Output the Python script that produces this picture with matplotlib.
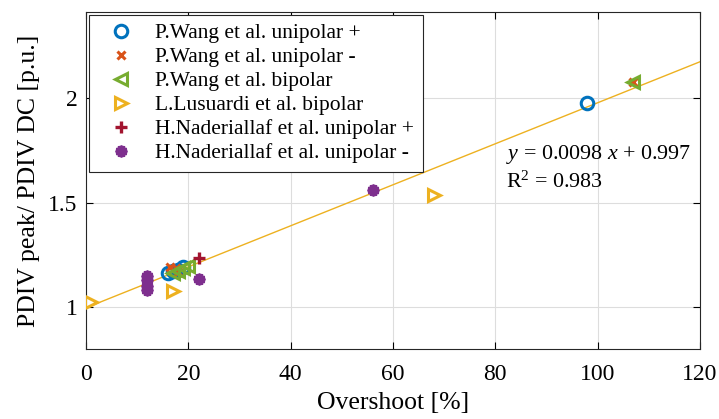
import numpy as np
import matplotlib.pyplot as plt

plt.rcParams['font.family'] = ['Liberation Serif', 'DejaVu Serif']
plt.rcParams['mathtext.fontset'] = 'custom'
plt.rcParams['mathtext.rm'] = 'Liberation Serif'
plt.rcParams['mathtext.it'] = 'Liberation Serif:italic'

# overshoot [%] and PDIV ratio for each data set
wang_uni_pos_x = [16, 17, 18, 19, 98]
wang_uni_pos_y = [1.165, 1.175, 1.18, 1.19, 1.975]
wang_uni_neg_x = [16.5, 17.5, 18, 107]
wang_uni_neg_y = [1.19, 1.185, 1.17, 2.075]
wang_bi_x = [17, 18, 19, 20, 107]
wang_bi_y = [1.165, 1.175, 1.185, 1.195, 2.075]
lusuardi_x = [1, 17, 68]
lusuardi_y = [1.025, 1.078, 1.535]
nader_pos_x = [22]
nader_pos_y = [1.235]
nader_neg_x = [12, 12, 12, 12, 22, 56]
nader_neg_y = [1.15, 1.13, 1.10, 1.08, 1.133, 1.562]

fit_slope = 0.0098
fit_icpt = 0.997
fit_r2 = 0.983

fig = plt.figure(figsize=(7.19, 4.19), dpi=100)
ax = fig.add_axes([0.1196, 0.167, 0.854, 0.804])

xf = np.array([0, 120])
ax.plot(xf, fit_slope * xf + fit_icpt, color='#EDB120', lw=1.0, zorder=2)

ms = 9
ax.plot(wang_uni_pos_x, wang_uni_pos_y, 'o', ls='none', mfc='none', mec='#0072BD',
        mew=2.2, ms=ms, label='P.Wang et al. unipolar +', zorder=3)
ax.plot(wang_uni_neg_x, wang_uni_neg_y, 'x', ls='none', mec='#D95319',
        mew=2.2, ms=6, label='P.Wang et al. unipolar -', zorder=3)
ax.plot(wang_bi_x, wang_bi_y, '<', ls='none', mfc='none', mec='#77AC30',
        mew=2.2, ms=ms, label='P.Wang et al. bipolar', zorder=3)
ax.plot(lusuardi_x, lusuardi_y, '>', ls='none', mfc='none', mec='#EDB120',
        mew=2.2, ms=ms, label='L.Lusuardi et al. bipolar', zorder=3)
ax.plot(nader_pos_x, nader_pos_y, '+', ls='none', mec='#A2142F',
        mew=2.4, ms=9, label='H.Naderiallaf et al. unipolar +', zorder=3)
ax.plot(nader_neg_x, nader_neg_y, marker=(12, 1, 0), ls='none', mfc='#7E2F8E',
        mec='#7E2F8E', mew=1.5, ms=8.5, label='H.Naderiallaf et al. unipolar -', zorder=3)

ax.set_xlim(0, 120)
ax.set_ylim(0.8, 2.41)
ax.set_xticks(np.arange(0, 121, 20))
ax.set_yticks([1, 1.5, 2])
ax.set_yticklabels(['1', '1.5', '2'])
ax.grid(True, color='#dddddd', lw=0.8)
ax.set_axisbelow(True)
ax.tick_params(direction='in', labelsize=17, length=5, top=True, right=True,
               width=0.8)
ax.tick_params(axis='x', pad=11)
ax.tick_params(axis='y', pad=6)
for s in ax.spines.values():
    s.set_linewidth(0.8)
    s.set_color('#262626')

ax.set_xlabel('Overshoot [%]', fontsize=18.5, labelpad=5)
ax.set_ylabel('PDIV peak/ PDIV DC [p.u.]', fontsize=18.5, labelpad=6)

ax.text(82, 1.73, r'$y$ = %.4f $x$ + %.3f' % (fit_slope, fit_icpt), fontsize=15.8,
        va='center')
ax.text(82, 1.595, r'R$^2$ = %.3f' % fit_r2, fontsize=15.8, va='center')

leg = ax.legend(loc='upper left', fontsize=15.5, frameon=True, fancybox=False,
                edgecolor='#262626', framealpha=1, borderaxespad=0.12,
                handlelength=2.2, handletextpad=0.5, labelspacing=0.18,
                borderpad=0.4, numpoints=1)
leg.get_frame().set_linewidth(0.8)

fig.savefig('out.png', dpi=100)
